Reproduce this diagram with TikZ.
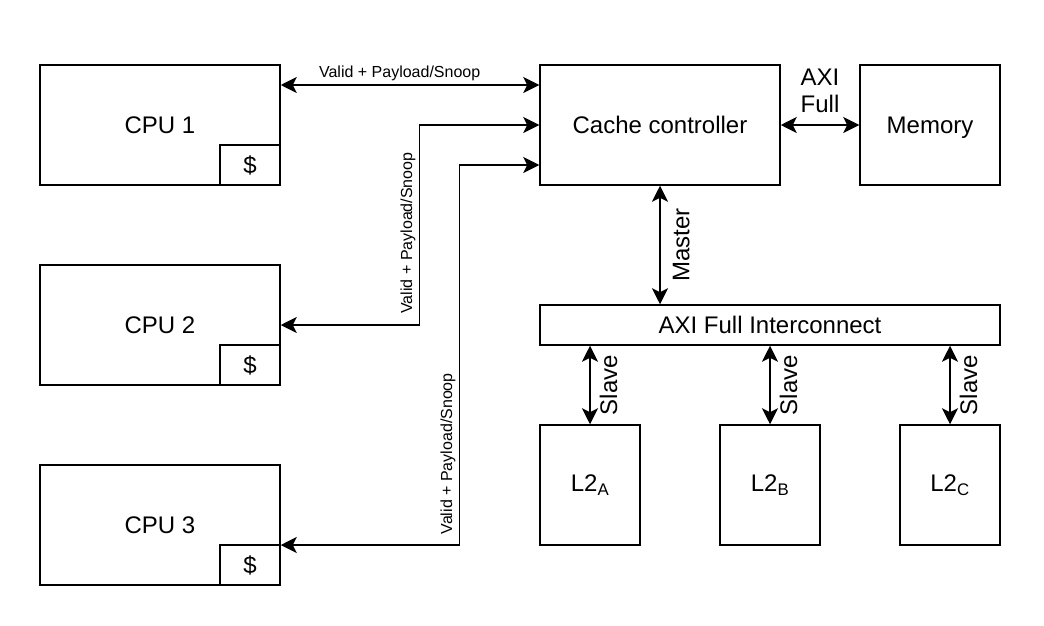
\documentclass[tikz,border=0pt]{standalone}
\usepackage{fontspec}
\setmainfont{Liberation Sans}
\usetikzlibrary{arrows.meta}

\tikzset{
  block/.style={draw, line width=1.5pt, inner sep=0pt, font=\fontsize{24}{28}\selectfont},
  link/.style={line width=1.5pt, {Stealth[length=16pt,width=16pt,inset=4pt]}-{Stealth[length=16pt,width=16pt,inset=4pt]}},
  lbl/.style={inner sep=3pt, font=\fontsize{24}{27}\selectfont},
  side/.style={lbl, rotate=90, anchor=north, inner sep=9pt},
  tiny/.style={inner sep=3pt, font=\fontsize{16}{19}\selectfont}
}

\begin{document}
\begin{tikzpicture}[x=1pt,y=-1pt]
  \useasboundingbox (0,0) rectangle (1044,626);

  % CPUs with their caches
  \foreach \i/\y in {1/125,2/325,3/525} {
    \node[block, minimum width=240pt, minimum height=120pt] (cpu\i) at (160,\y) {CPU \i};
    \node[block, minimum width=60pt, minimum height=40pt] (cache\i) at (250,\y+40) {\$};
  }

  % Controller side
  \node[block, minimum width=240pt, minimum height=120pt] (cc) at (660,125) {Cache controller};
  \node[block, minimum width=140pt, minimum height=120pt, text depth=0pt] (mem) at (930,125) {Memory};
  \node[block, minimum width=460pt, minimum height=40pt] (ic) at (770,325) {AXI Full Interconnect};
  \node[block, minimum width=100pt, minimum height=120pt] (l2a) at (590,485) {L2\textsubscript{A}};
  \node[block, minimum width=100pt, minimum height=120pt] (l2b) at (770,485) {L2\textsubscript{B}};
  \node[block, minimum width=100pt, minimum height=120pt] (l2c) at (950,485) {L2\textsubscript{C}};

  % CPU links
  \draw[link] ([yshift=40pt]cpu1.east) -- node[tiny, above, pos=0.46] {Valid + Payload/Snoop} ([yshift=40pt]cc.west);
  \draw[link] (cc.west) -- ++(-120,0) |- node[tiny, pos=0.27, rotate=90, anchor=south] {Valid + Payload/Snoop} (cpu2.east);
  \draw[link] ([yshift=-40pt]cc.west) -- ++(-80,0) |- node[tiny, pos=0.38, rotate=90, anchor=south] {Valid + Payload/Snoop} ([yshift=-20pt]cpu3.east);

  % Memory and interconnect links
  \draw[link] (cc.east) -- node[lbl, above, align=center, yshift=9pt] {AXI\\Full} (mem.west);
  \draw[link] (cc.south) -- node[side, inner sep=12pt] {Master} (cc.south |- ic.north);
  \foreach \n in {l2a,l2b,l2c}
    \draw[link] (\n.north |- ic.south) -- node[side] {Slave} (\n.north);
\end{tikzpicture}
\end{document}
